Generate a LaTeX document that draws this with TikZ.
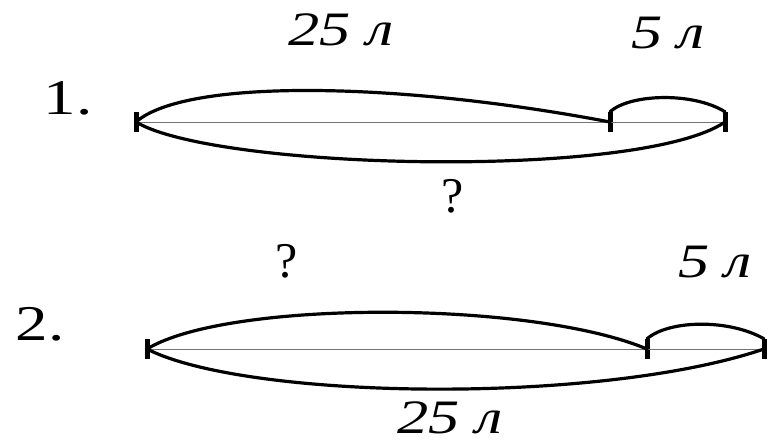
\documentclass[tikz,border=0pt]{standalone}
\usepackage{fontspec}
\setmainfont{Liberation Serif}
\usetikzlibrary{positioning}

\newcommand{\widetxt}[1]{\scalebox{1.3}[1]{#1}}

\tikzset{
  segtick/.style={draw=none,fill=black,rectangle,inner sep=0pt,minimum width=5pt,minimum height=20pt},
  segline/.style={line width=0.9pt,black!55},
  arcline/.style={line width=3.2pt,line cap=round},
  lbl/.style={font=\fontsize{48}{48}\selectfont\itshape,inner sep=0pt,anchor=base},
  numlbl/.style={font=\fontsize{50}{50}\selectfont,inner sep=0pt,anchor=base},
}

\begin{document}
\begin{tikzpicture}[x=1pt,y=-1pt]
    \useasboundingbox (0,0) rectangle (769,442);

    % first scheme
    \node[numlbl] (num1) at (68,114) {\widetxt{1.}};
    \node[segtick] (a1) at (136,122) {};
    \node[segtick] (b1) at (610,122) {};
    \node[segtick] (c1) at (725,122) {};
    \draw[segline] (a1.center) -- (c1.center);
    \draw[arcline] (a1.center) .. controls +(50,-44) and +(-210,-40) .. (b1.center);
    \draw[arcline] (b1.north) .. controls +(20,-18) and +(-32,-20) .. (c1.north);
    \draw[arcline] (a1.center) .. controls +(80,48) and +(-85,58) .. (c1.center);
    \node[lbl] (big1) at (341,45) {\widetxt{25 л}};
    \node[lbl] (small1) at (668,48) {\widetxt{5 л}};
    \node[numlbl] (sum1) at (453,212) {?};

    % second scheme
    \node[numlbl] (num2) at (40,340) {\widetxt{2.}};
    \node[segtick] (a2) at (147,349) {};
    \node[segtick] (b2) at (647,349) {};
    \node[segtick] (c2) at (764,349) {};
    \draw[segline] (a2.center) -- (c2.center);
    \draw[arcline] (a2.center) .. controls +(80,-49) and +(-117,-49) .. (b2.center);
    \draw[arcline] (b2.north) .. controls +(22,-19) and +(-35,-20) .. (c2.north);
    \draw[arcline] (a2.center) .. controls +(100,51) and +(-165,56) .. (c2.center);
    \node[numlbl] (part2) at (287,277) {?};
    \node[lbl] (small2) at (715,277) {\widetxt{5 л}};
    \node[lbl] (sum2) at (450,433) {\widetxt{25 л}};
\end{tikzpicture}
\end{document}
